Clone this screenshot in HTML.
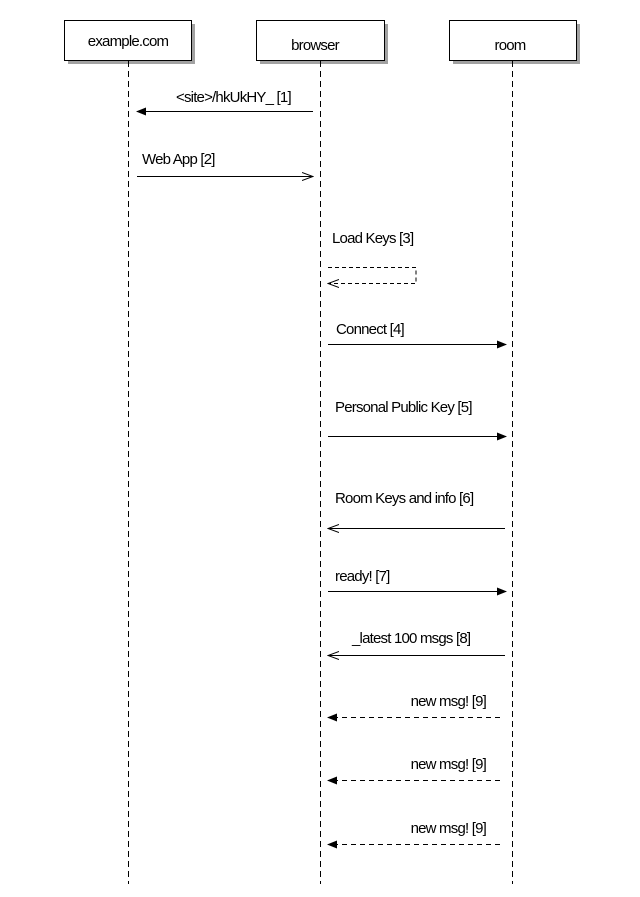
<!DOCTYPE html>
<html><head><meta charset="utf-8"><style>
html,body{margin:0;padding:0;background:#fff;}
svg{display:block;}
text{font-family:"Liberation Sans Narrow","Liberation Sans",sans-serif;font-size:15px;fill:#000;letter-spacing:-0.8px;}
</style></head><body>
<svg width="640" height="897" viewBox="0 0 640 897" xmlns="http://www.w3.org/2000/svg">
<defs>
<marker id="f" markerWidth="10" markerHeight="8" refX="9" refY="4" orient="auto" markerUnits="userSpaceOnUse"><path d="M0,0 L10,4 L0,8 Z" fill="#000"/></marker>
<marker id="o" markerWidth="12" markerHeight="10" refX="11" refY="5" orient="auto" markerUnits="userSpaceOnUse"><path d="M0,1 L11,5 L0,9" fill="none" stroke="#000" stroke-width="1"/></marker>
</defs>
<g fill="#555" opacity="0.55">
<rect x="68" y="24" width="127" height="40"/>
<rect x="260" y="24" width="128" height="40"/>
<rect x="453" y="24" width="127" height="40"/>
</g>
<g stroke="#000" stroke-width="1" stroke-dasharray="6,4" fill="none">
<line x1="128.5" y1="61" x2="128.5" y2="884"/>
<line x1="320.5" y1="61" x2="320.5" y2="884"/>
<line x1="512.5" y1="61" x2="512.5" y2="884"/>
</g>
<g stroke="#000" stroke-width="1" fill="#fff">
<rect x="64.5" y="20.5" width="127" height="40"/>
<rect x="256.5" y="20.5" width="128" height="40"/>
<rect x="449.5" y="20.5" width="127" height="40"/>
</g>
<text x="128" y="46" text-anchor="middle">example.com</text>
<text x="315" y="50" text-anchor="middle">browser</text>
<text x="510" y="50" text-anchor="middle">room</text>

<g stroke="#000" stroke-width="1" fill="none">
<line x1="313" y1="111.5" x2="137" y2="111.5" marker-end="url(#f)"/>
<line x1="137" y1="176.5" x2="313" y2="176.5" marker-end="url(#o)"/>
<path d="M328,267.5 H416 V283.5 H328" stroke-dasharray="4,3" marker-end="url(#o)"/>
<line x1="328" y1="344.5" x2="506" y2="344.5" marker-end="url(#f)"/>
<line x1="328" y1="436.5" x2="506" y2="436.5" marker-end="url(#f)"/>
<line x1="505" y1="528.5" x2="328" y2="528.5" marker-end="url(#o)"/>
<line x1="328" y1="591.5" x2="506" y2="591.5" marker-end="url(#f)"/>
<line x1="505" y1="655.5" x2="328" y2="655.5" marker-end="url(#o)"/>
<line x1="500" y1="717.5" x2="328" y2="717.5" stroke-dasharray="5,4" marker-end="url(#f)"/>
<line x1="500" y1="780.5" x2="328" y2="780.5" stroke-dasharray="5,4" marker-end="url(#f)"/>
<line x1="500" y1="844.5" x2="328" y2="844.5" stroke-dasharray="5,4" marker-end="url(#f)"/>
</g>
<text x="176" y="102">&lt;site&gt;/hkUkHY_ [1]</text>
<text x="142" y="164">Web App [2]</text>
<text x="332" y="243">Load Keys [3]</text>
<text x="336" y="334">Connect [4]</text>
<text x="335" y="412">Personal Public Key [5]</text>
<text x="335" y="503">Room Keys and info [6]</text>
<text x="335" y="581">ready! [7]</text>
<text x="352" y="643">_latest 100 msgs [8]</text>
<text x="486" y="706" text-anchor="end">new msg! [9]</text>
<text x="486" y="769" text-anchor="end">new msg! [9]</text>
<text x="486" y="833" text-anchor="end">new msg! [9]</text>
</svg>
</body></html>
